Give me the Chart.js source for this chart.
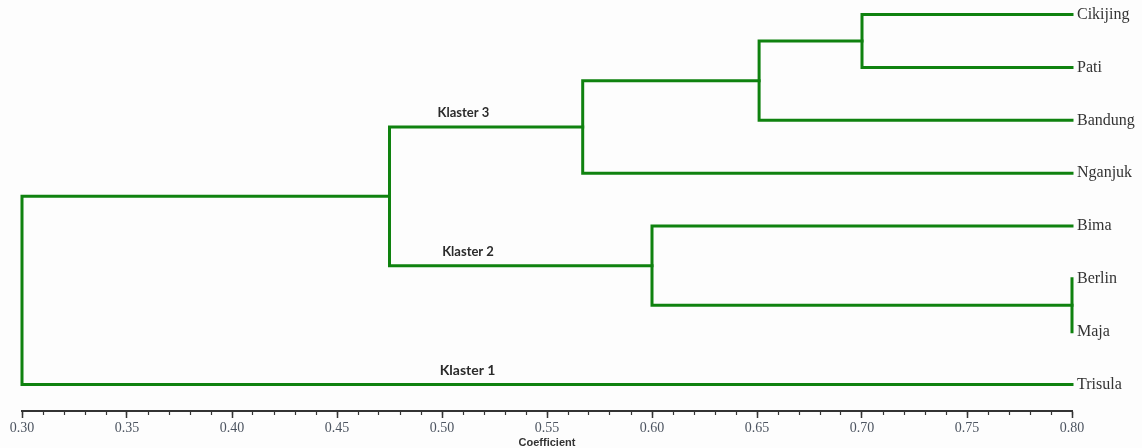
<!DOCTYPE html>
<html><head><meta charset="utf-8">
<script src="https://cdn.jsdelivr.net/npm/chart.js@4.4.0/dist/chart.umd.min.js"></script>
<style>html,body{margin:0;padding:0;background:#fdfdfd;} canvas{display:block;}</style>
</head><body>
<canvas id="c" width="1142" height="448"></canvas>
<script>
// ---- data ----
const leaves = ['Cikijing', 'Pati', 'Bandung', 'Nganjuk', 'Bima', 'Berlin', 'Maja', 'Trisula'];
// merge steps: indices < 8 are leaves, 8+k is the node created by step k
const merges = [[0, 1], [8, 2], [9, 3], [5, 6], [4, 11], [10, 12], [13, 7]];
const mergeHeights = [0.700, 0.651, 0.567, 0.800, 0.600, 0.475, 0.300];
const leafHeight = 0.80;
const xTicks = [0.30, 0.35, 0.40, 0.45, 0.50, 0.55, 0.60, 0.65, 0.70, 0.75, 0.80];
const clusterNames = ['Klaster 3', 'Klaster 2', 'Klaster 1'];
const clusterNodes = [10, 12, 7];
const clusterLabelX = [0.5102, 0.5124, 0.5122];
const axisTitle = 'Coefficient';

// ---- dendrogram geometry from the tree ----
const nodeY = leaves.map((_, i) => i);
const nodeH = leaves.map(() => leafHeight);
merges.forEach(([a, b], k) => {
  nodeY.push((nodeY[a] + nodeY[b]) / 2);
  nodeH.push(mergeHeights[k]);
});
const GREEN = '#0f820f';
const datasets = merges.map(([a, b], k) => ({
  data: [
    {x: nodeH[a], y: nodeY[a]},
    {x: mergeHeights[k], y: nodeY[a]},
    {x: mergeHeights[k], y: nodeY[b]},
    {x: nodeH[b], y: nodeY[b]}
  ],
  showLine: true,
  borderColor: GREEN,
  borderWidth: 3,
  pointRadius: 0,
  borderJoinStyle: 'miter',
  borderCapStyle: 'square',
  tension: 0,
  clip: false
}));

const minorTicks = [];
for (let i = 30; i <= 80; i++) minorTicks.push(i / 100);

const clusterFontSizes = [13, 13, 14];
const clusterLabelPlugin = {
  id: 'clusterLabels',
  afterDatasetsDraw(chart) {
    const {ctx, scales} = chart;
    ctx.save();
    ctx.fillStyle = '#2b2b2b';
    ctx.textAlign = 'center';
    ctx.textBaseline = 'middle';
    clusterNames.forEach((name, i) => {
      ctx.font = 'bold ' + clusterFontSizes[i] + 'px Lato, "Open Sans", sans-serif';
      const x = scales.x.getPixelForValue(clusterLabelX[i]);
      const y = scales.y.getPixelForValue(nodeY[clusterNodes[i]]) - 14;
      ctx.fillText(name, x, y);
    });
    ctx.restore();
  }
};

new Chart(document.getElementById('c'), {
  type: 'scatter',
  data: {datasets},
  options: {
    responsive: false,
    animation: false,
    layout: {padding: {left: 22, top: 13, right: 0, bottom: 0}},
    plugins: {legend: {display: false}, tooltip: {enabled: false}},
    scales: {
      x: {
        type: 'linear', position: 'bottom', min: 0.30, max: 0.80,
        afterBuildTicks: s => { s.ticks = xTicks.map(v => ({value: v})); },
        afterFit: s => { s.height = 37; },
        grid: {drawOnChartArea: false, tickLength: 7, tickColor: '#333', tickWidth: 1.5},
        border: {display: true, color: '#333', width: 2},
        ticks: {
          padding: 2, autoSkip: false, maxRotation: 0,
          color: '#4d5561',
          font: {family: '"Liberation Serif", "Times New Roman", serif', size: 14},
          callback: v => Number(v).toFixed(2)
        },
        title: {
          display: true, text: axisTitle, color: '#333',
          font: {family: '"Liberation Sans", Arial, sans-serif', size: 11, weight: 'bold'},
          padding: {top: 0, bottom: -2}
        }
      },
      x2: {
        type: 'linear', position: {y: 7.5}, min: 0.30, max: 0.80,
        afterBuildTicks: s => { s.ticks = minorTicks.map(v => ({value: v})); },
        grid: {drawOnChartArea: false, tickLength: 4, tickColor: '#333', tickWidth: 1.2},
        border: {display: false},
        ticks: {display: false}
      },
      y: {
        type: 'linear', position: 'right', reverse: true, min: 0, max: 7.5,
        afterBuildTicks: s => { s.ticks = leaves.map((_, i) => ({value: i})); },
        afterFit: s => { s.width = 70; },
        grid: {display: false, drawTicks: false},
        border: {display: false},
        ticks: {
          padding: 5, autoSkip: false, color: '#333',
          font: {family: '"Liberation Serif", "Times New Roman", serif', size: 16},
          callback: v => leaves[v]
        }
      }
    }
  },
  plugins: [clusterLabelPlugin]
});
</script>
</body></html>
